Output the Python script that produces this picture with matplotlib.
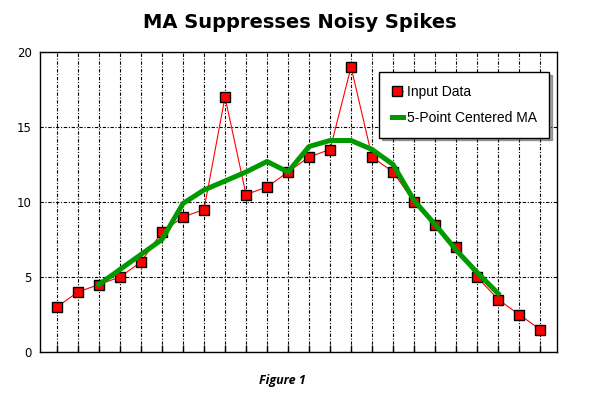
import matplotlib
matplotlib.use('Agg')
from matplotlib import pyplot as plt

# data
x_vals = list(range(1, 25))
input_data = [3, 4, 4.5, 5, 6, 8, 9, 9.5, 17, 10.5, 11, 12,
              13, 13.5, 19, 13, 12, 10, 8.5, 7, 5, 3.5, 2.5, 1.5]
ma_x = list(range(3, 23))
ma_vals = [4.5, 5.5, 6.5, 7.5, 9.9, 10.8, 11.4, 12.0, 12.7, 12.0,
           13.7, 14.1, 14.1, 13.5, 12.5, 10.1, 8.5, 6.8, 5.3, 3.9]
y_ticks = [0, 5, 10, 15, 20]


def main():
    fig = plt.figure(figsize=(5.9, 4.0), dpi=100)
    ax = fig.add_axes([0.068, 0.12, 0.876, 0.75])

    ax.plot(x_vals, input_data, color='red', lw=0.8, marker='s', ms=7,
            mfc='red', mec='black', mew=1.0, label='Input Data', zorder=3)
    ax.plot(ma_x, ma_vals, color='#009900', lw=3.6, label='5-Point Centered MA',
            solid_joinstyle='round', zorder=4)

    ax.set_xlim(0.2, 24.8)
    ax.set_ylim(0, 20)
    ax.set_xticks(x_vals)
    ax.set_xticklabels([])
    ax.set_yticks(y_ticks)
    ax.tick_params(axis='x', direction='in', length=5, width=1.0)
    ax.tick_params(axis='y', length=0, labelsize=8.5, pad=6)
    ax.grid(True, color='black', lw=0.8, ls=(0, (3, 1.5, 1, 1.5)))
    for s in ax.spines.values():
        s.set_linewidth(1.0)

    leg = ax.legend(loc='upper left', bbox_to_anchor=(0.656, 0.933),
                    borderaxespad=0, fancybox=False, shadow=True,
                    framealpha=1, edgecolor='black', handlelength=0.8,
                    handletextpad=0.3, borderpad=0.9, labelspacing=0.9,
                    prop={'family': 'Liberation Sans', 'size': 10})
    leg.get_frame().set_linewidth(1.0)

    fig.suptitle('MA Suppresses Noisy Spikes', x=0.508, y=0.967,
                 fontsize=14, fontweight='bold', family='DejaVu Sans')
    fig.text(0.478, 0.04, 'Figure 1', fontsize=9, style='italic',
             fontweight='bold', ha='center', family='Open Sans')

    fig.savefig('out.png', dpi=100)


if __name__ == '__main__':
    main()
